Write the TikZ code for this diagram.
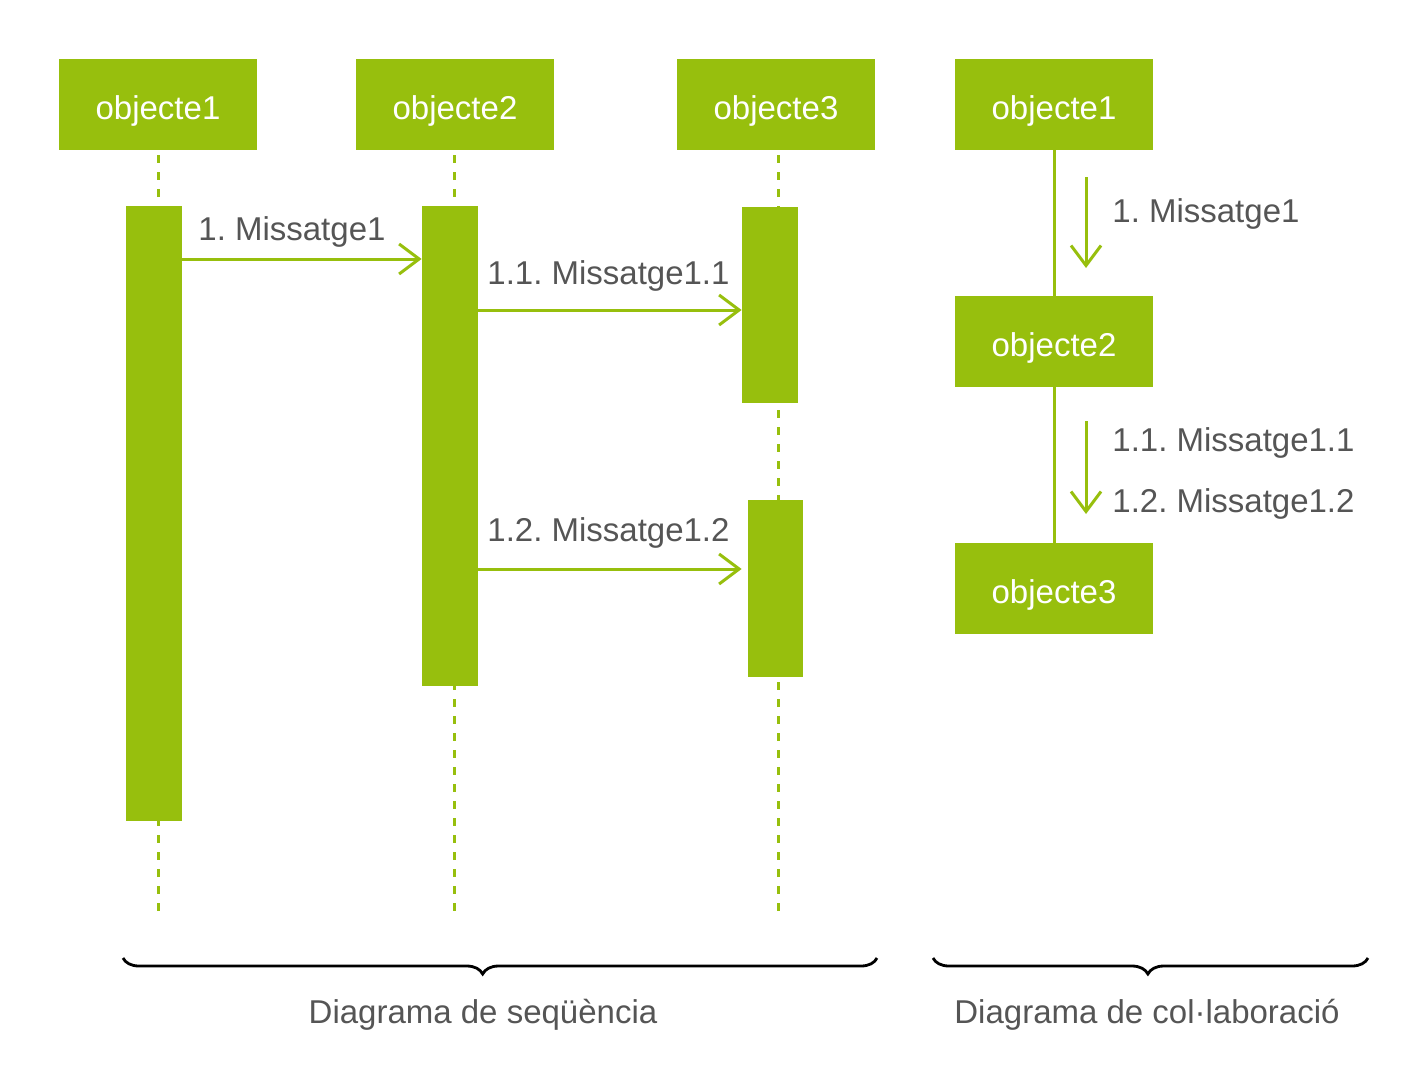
\documentclass[tikz,border=0pt]{standalone}
\usepackage{fontspec}
\setmainfont{Liberation Sans}
\usetikzlibrary{arrows.meta,decorations.pathreplacing}
\definecolor{umlgreen}{RGB}{151,191,13}
\definecolor{txtgray}{RGB}{85,85,85}
\newcommand\boxtxt[1]{\raisebox{-3.3pt}[\height][\depth]{#1}}
\tikzset{
  objbox/.style={fill=umlgreen, draw=none, minimum width=99pt, minimum height=45.5pt, inner sep=0pt, text=white, font=\fontsize{16.5}{19}\selectfont},
  actbar/.style={fill=umlgreen, draw=none, inner sep=0pt, minimum width=28pt},
  lifeline/.style={umlgreen, line width=1.5pt, dash pattern=on 4pt off 4.5pt, dash phase=-2.5pt},
  msg/.style={umlgreen, line width=1.5pt, -{Straight Barb[length=10pt,width=15pt,line width=1.5pt]}},
  link/.style={umlgreen, line width=1.5pt},
  lbl/.style={text=txtgray, font=\fontsize{16.5}{19}\selectfont, inner sep=0pt, anchor=base west},
  caption/.style={text=txtgray, font=\fontsize{16.5}{19}\selectfont, inner sep=0pt, anchor=base},
  bracedeco/.style={black, line width=1.4pt, decorate, decoration={brace, mirror, amplitude=8pt, aspect=#1}},
  bracedeco/.default=0.5
}
\begin{document}
\frenchspacing
\begin{tikzpicture}[x=0.5pt, y=-0.5pt]
\useasboundingbox (0,0) rectangle (1417,1086);
% sequence diagram headers
\node[objbox] (o1) at (158,104.5) {\boxtxt{objecte1}};
\node[objbox] (o2) at (455,104.5) {\boxtxt{objecte2}};
\node[objbox] (o3) at (776,104.5) {\boxtxt{objecte3}};
% lifeline ends
\coordinate (e1) at (158,912);
\coordinate (e2) at (454,912);
\coordinate (e3) at (778,912);
\draw[lifeline] (o1.south -| e1) -- (e1);
\draw[lifeline] (o2.south -| e2) -- (e2);
\draw[lifeline] (o3.south -| e3) -- (e3);
% activation bars
\node[actbar, minimum height=307.5pt] (b1) at (154,513.5) {};
\node[actbar, minimum height=240pt] (b2) at (450,446) {};
\node[actbar, minimum height=98pt] (b3a) at (770,304.5) {};
\node[actbar, minimum height=88.5pt, minimum width=27.5pt] (b3b) at (775.5,588.5) {};
% messages
\coordinate (m1) at (0,259);
\coordinate (m11) at (0,310);
\coordinate (m12) at (0,569);
\draw[msg] (b1.east |- m1) -- (b2.west |- m1);
\draw[msg] (b2.east |- m11) -- (b3a.west |- m11);
\draw[msg] (b2.east |- m12) -- (b3a.west |- m12);
\node[lbl] (l1) at (198,240) {1. Missatge1};
\node[lbl] (l11) at (487,284) {1.1. Missatge1.1};
\node[lbl] (l12) at (487,541) {1.2. Missatge1.2};
% collaboration diagram
\node[objbox] (c1) at (1054,104.5) {\boxtxt{objecte1}};
\node[objbox] (c2) at (1054,341.5) {\boxtxt{objecte2}};
\node[objbox] (c3) at (1054,588.5) {\boxtxt{objecte3}};
\draw[link] (c1) -- (c2);
\draw[link] (c2) -- (c3);
\coordinate (a1s) at (1086,177);
\coordinate (a1e) at (1086,268);
\coordinate (a2s) at (1086,421);
\coordinate (a2e) at (1086,514);
\draw[msg] (a1s) -- (a1e);
\draw[msg] (a2s) -- (a2e);
\node[lbl] (cl1) at (1112,222) {1. Missatge1};
\node[lbl] (cl11) at (1112,451) {1.1. Missatge1.1};
\node[lbl] (cl12) at (1112,512) {1.2. Missatge1.2};
% braces
\coordinate (bs1) at (123,958);
\coordinate (be1) at (877,958);
\coordinate (bs2) at (933,958);
\coordinate (be2) at (1368,958);
\draw[bracedeco=0.477] (bs1) -- (be1);
\draw[bracedeco=0.494] (bs2) -- (be2);
\node[caption] (cap1) at (483,1023) {Diagrama de seqüència};
\node[caption] (cap2) at (1147,1023) {Diagrama de col·laboració};
\end{tikzpicture}
\end{document}
